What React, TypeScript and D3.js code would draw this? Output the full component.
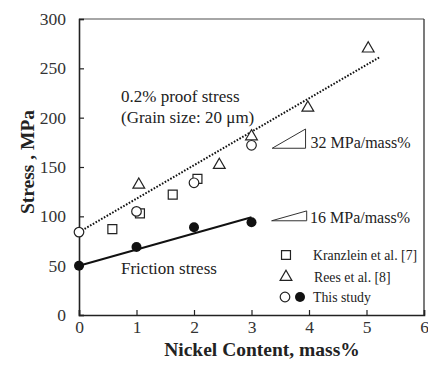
import React, { useEffect, useRef } from "react";
import * as d3 from "d3";

// Kranzlein et al. [7]
const kranzNi = [0.58, 1.06, 1.63, 2.06];
const kranzStress = [87, 103, 122, 138];

// Rees et al. [8]
const reesNi = [1.04, 2.44, 3.0, 3.98, 5.03];
const reesStress = [132, 152, 181, 210, 270];

// This study
const studyNi = [0, 1, 2, 3];
const proofStress = [84, 105, 134, 172];
const frictionStress = [50, 69, 89, 94];

// fitted lines (end points)
const proofFitNi = [0, 5.22];
const proofFitStress = [84, 261];
const frictionFitNi = [0, 3];
const frictionFitStress = [50, 99];

const xTicks = [0, 1, 2, 3, 4, 5, 6];
const yTicks = [0, 50, 100, 150, 200, 250, 300];

const width = 428,
  height = 370;
const margin = { top: 19, right: 4, bottom: 55, left: 79 };
const font = "Liberation Serif, Times New Roman, serif";

export default function App() {
  const svgRef = useRef<SVGSVGElement>(null);

  useEffect(() => {
    const svg = d3.select(svgRef.current);
    svg.selectAll("*").remove();

    const x = d3
      .scaleLinear()
      .domain([0, 6])
      .range([margin.left, width - margin.right]);
    const y = d3
      .scaleLinear()
      .domain([0, 300])
      .range([height - margin.bottom, margin.top]);

    // frame on top and right
    svg
      .append("path")
      .attr("d", `M${x(0)},${y(300)}H${x(6)}`)
      .attr("stroke", "#888")
      .attr("stroke-width", 1.4);
    svg
      .append("path")
      .attr("d", `M${x(6)},${y(300)}V${y(0)}`)
      .attr("stroke", "#333")
      .attr("stroke-width", 1.3);

    const xAxis = d3
      .axisBottom(x)
      .tickValues(xTicks)
      .tickSize(-5)
      .tickPadding(6)
      .tickFormat(d3.format("d"));
    const yAxis = d3
      .axisLeft(y)
      .tickValues(yTicks)
      .tickSize(-5)
      .tickPadding(13)
      .tickFormat(d3.format("d"));

    const gx = svg
      .append("g")
      .attr("transform", `translate(0,${y(0)})`)
      .call(xAxis);
    const gy = svg
      .append("g")
      .attr("transform", `translate(${x(0)},0)`)
      .call(yAxis);

    [gx, gy].forEach(g => {
      g.attr("font-family", font).attr("font-size", 17.5);
      g.select(".domain").attr("stroke", "#222").attr("stroke-width", 1.6);
      g.selectAll(".tick line").attr("stroke", "#222").attr("stroke-width", 1.2);
      g.selectAll(".tick text").attr("fill", "#333");
    });

    // axis titles
    svg
      .append("text")
      .attr("x", 262)
      .attr("y", 356)
      .attr("text-anchor", "middle")
      .attr("font-family", font)
      .attr("font-size", 19.5)
      .attr("font-weight", "bold")
      .attr("fill", "#222")
      .text("Nickel Content, mass%");
    svg
      .append("text")
      .attr("transform", `translate(34,${(y(0) + y(300)) / 2 - 5}) rotate(-90)`)
      .attr("text-anchor", "middle")
      .attr("font-family", font)
      .attr("font-size", 19.5)
      .attr("font-weight", "bold")
      .attr("fill", "#222")
      .text("Stress , MPa");

    // proof stress fit (dotted)
    svg
      .append("path")
      .attr(
        "d",
        d3.line<number>()
          .x(d => x(proofFitNi[d]))
          .y(d => y(proofFitStress[d]))([0, 1])
      )
      .attr("stroke", "#111")
      .attr("stroke-width", 2)
      .attr("stroke-dasharray", "1.6,1.6")
      .attr("fill", "none");

    // friction stress fit (solid)
    svg
      .append("path")
      .attr(
        "d",
        d3.line<number>()
          .x(d => x(frictionFitNi[d]))
          .y(d => y(frictionFitStress[d]))([0, 1])
      )
      .attr("stroke", "#111")
      .attr("stroke-width", 2)
      .attr("fill", "none");

    const sym = (type: d3.SymbolType, size: number) =>
      d3.symbol().type(type).size(size)();

    // squares
    svg
      .append("g")
      .selectAll("path")
      .data(kranzNi)
      .enter()
      .append("path")
      .attr("transform", (d, i) => `translate(${x(d)},${y(kranzStress[i])})`)
      .attr("d", sym(d3.symbolSquare, 80))
      .attr("fill", "white")
      .attr("stroke", "#222")
      .attr("stroke-width", 1.2);

    // triangles
    svg
      .append("g")
      .selectAll("path")
      .data(reesNi)
      .enter()
      .append("path")
      .attr("transform", (d, i) => `translate(${x(d)},${y(reesStress[i])})`)
      .attr("d", sym(d3.symbolTriangle, 60))
      .attr("fill", "white")
      .attr("stroke", "#222")
      .attr("stroke-width", 1.2);

    // open circles: proof stress
    svg
      .append("g")
      .selectAll("circle")
      .data(studyNi)
      .enter()
      .append("circle")
      .attr("cx", d => x(d))
      .attr("cy", (d, i) => y(proofStress[i]))
      .attr("r", 4.8)
      .attr("fill", "white")
      .attr("stroke", "#222")
      .attr("stroke-width", 1.2);

    // filled circles: friction stress
    svg
      .append("g")
      .selectAll("circle")
      .data(studyNi)
      .enter()
      .append("circle")
      .attr("cx", d => x(d))
      .attr("cy", (d, i) => y(frictionStress[i]))
      .attr("r", 5)
      .attr("fill", "#111");

    // slope triangles
    const slopeTri = (x0: number, x1: number, y0: number, y1: number) =>
      `M${x(x0)},${y(y0)}H${x(x1)}V${y(y1)}Z`;
    svg
      .append("path")
      .attr("d", slopeTri(3.36, 3.94, 169, 188.5))
      .attr("fill", "none")
      .attr("stroke", "#333")
      .attr("stroke-width", 1);
    svg
      .append("path")
      .attr("d", slopeTri(3.35, 3.96, 95.5, 105.5))
      .attr("fill", "none")
      .attr("stroke", "#333")
      .attr("stroke-width", 1);

    const label = (tx: number, ty: number, s: string, size = 17) =>
      svg
        .append("text")
        .attr("x", tx)
        .attr("y", ty)
        .attr("font-family", font)
        .attr("font-size", size)
        .attr("fill", "#222")
        .text(s);

    label(310.5, 147.5, "32 MPa/mass%", 16);
    label(310, 223, "16 MPa/mass%", 16);
    label(121, 102, "0.2% proof stress");
    label(121, 122.5, "(Grain size: 20 \u03bcm)");
    label(121, 274, "Friction stress");

    // legend
    const leg = svg.append("g");
    leg
      .append("path")
      .attr("transform", "translate(286,255)")
      .attr("d", sym(d3.symbolSquare, 80))
      .attr("fill", "white")
      .attr("stroke", "#222")
      .attr("stroke-width", 1.2);
    leg
      .append("path")
      .attr("transform", "translate(286,277)")
      .attr("d", sym(d3.symbolTriangle, 60))
      .attr("fill", "white")
      .attr("stroke", "#222")
      .attr("stroke-width", 1.2);
    leg
      .append("circle")
      .attr("cx", 285)
      .attr("cy", 297)
      .attr("r", 4.8)
      .attr("fill", "white")
      .attr("stroke", "#222")
      .attr("stroke-width", 1.2);
    leg
      .append("circle")
      .attr("cx", 300)
      .attr("cy", 297)
      .attr("r", 5)
      .attr("fill", "#111");
    label(313, 260, "Kranzlein et al. [7]", 13.8);
    label(314, 281.5, "Rees et al. [8]", 13.8);
    label(313, 302, "This study", 13.8);
  }, []);

  return (
    <svg
      ref={svgRef}
      width={width}
      height={height}
      style={{ position: "absolute", left: 0, top: 0, background: "white" }}
    />
  );
}
